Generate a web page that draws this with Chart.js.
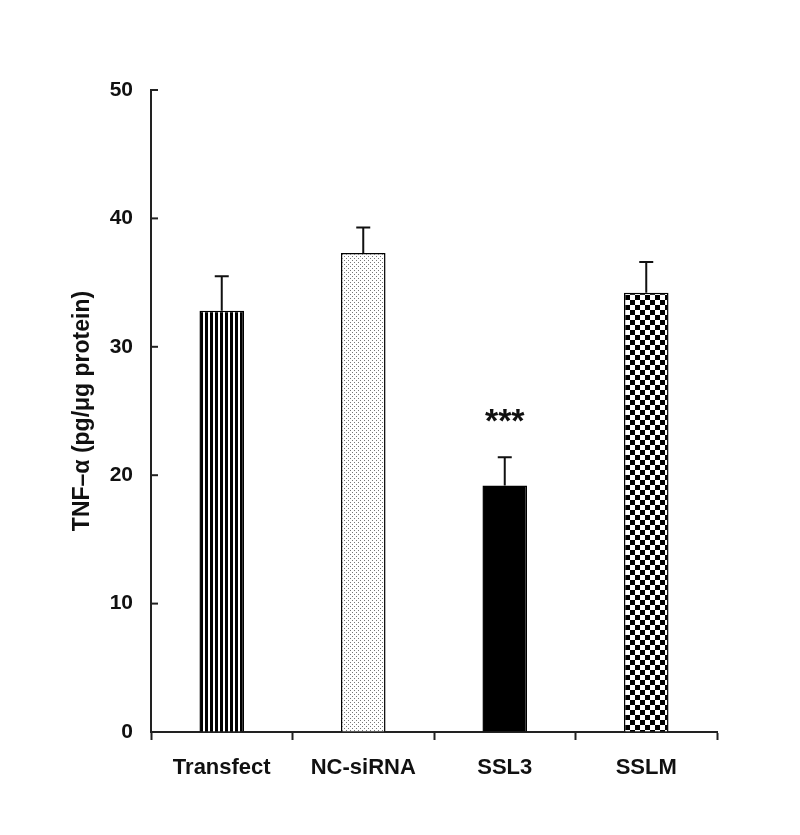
<!DOCTYPE html>
<html>
<head>
<meta charset="utf-8">
<script src="https://cdn.jsdelivr.net/npm/chart.js@4.4.1/dist/chart.umd.min.js"></script>
<style>
  html, body { margin: 0; padding: 0; background: #fff; }
  #wrap { width: 800px; height: 835px; }
</style>
</head>
<body>
<div id="wrap"><canvas id="c" width="800" height="835"></canvas></div>
<script>
const categories = ['Transfect', 'NC-siRNA', 'SSL3', 'SSLM'];
const values = [32.8, 37.3, 19.2, 34.2];
const errors = [2.7, 2.0, 2.2, 2.4];
const significance = ['', '', '***', ''];
const yTicks = [0, 10, 20, 30, 40, 50];

function makePattern(kind) {
  const c = document.createElement('canvas');
  const x = c.getContext('2d');
  if (kind === 'stripes') {
    c.width = 5; c.height = 5;
    x.fillStyle = '#fff'; x.fillRect(0, 0, 5, 5);
    x.fillStyle = '#000'; x.fillRect(0, 0, 3, 5);
  } else if (kind === 'dots') {
    c.width = 4; c.height = 4;
    x.fillStyle = '#fff'; x.fillRect(0, 0, 4, 4);
    x.fillStyle = '#777';
    x.fillRect(0, 0, 1, 1); x.fillRect(2, 2, 1, 1);
  } else if (kind === 'checker') {
    c.width = 10; c.height = 10;
    x.fillStyle = '#fff'; x.fillRect(0, 0, 10, 10);
    x.fillStyle = '#000'; x.fillRect(0, 0, 5, 5); x.fillRect(5, 5, 5, 5);
  }
  return x.createPattern(c, 'repeat');
}

const fills = [makePattern('stripes'), makePattern('dots'), '#000', makePattern('checker')];

const errorBarPlugin = {
  id: 'errorBars',
  afterDatasetsDraw(chart) {
    const ctx = chart.ctx;
    const meta = chart.getDatasetMeta(0);
    const yScale = chart.scales.y;
    ctx.save();
    ctx.strokeStyle = '#111';
    ctx.lineWidth = 2;
    meta.data.forEach((bar, i) => {
      const top = yScale.getPixelForValue(values[i] + errors[i]);
      ctx.beginPath();
      ctx.moveTo(bar.x, bar.y);
      ctx.lineTo(bar.x, top);
      ctx.moveTo(bar.x - 7, top);
      ctx.lineTo(bar.x + 7, top);
      ctx.stroke();
      if (significance[i]) {
        ctx.fillStyle = '#111';
        ctx.font = 'bold 34px "Liberation Sans", Arial, sans-serif';
        ctx.textAlign = 'center';
        ctx.textBaseline = 'alphabetic';
        ctx.fillText(significance[i], bar.x, top - 25);
      }
    });
    // inward y ticks
    ctx.lineWidth = 2;
    ctx.strokeStyle = '#222';
    const left = chart.chartArea.left;
    yTicks.forEach(v => {
      const py = yScale.getPixelForValue(v);
      ctx.beginPath();
      ctx.moveTo(left, py);
      ctx.lineTo(left + 7, py);
      ctx.stroke();
    });
    ctx.restore();
  }
};

new Chart(document.getElementById('c'), {
  type: 'bar',
  data: {
    labels: categories,
    datasets: [{
      data: values,
      backgroundColor: fills,
      borderColor: '#000',
      borderWidth: 1.5,
      borderSkipped: 'bottom',
      barPercentage: 0.315,
      categoryPercentage: 1.0
    }]
  },
  options: {
    responsive: false,
    animation: false,
    devicePixelRatio: 1,
    layout: { padding: { top: 90, right: 83, left: 0, bottom: 0 } },
    plugins: { legend: { display: false }, tooltip: { enabled: false } },
    scales: {
      x: {
        afterFit(s) { s.height = 103; },
        grid: { drawOnChartArea: false, drawTicks: true, tickLength: 8, tickWidth: 2, tickColor: '#222', offset: true },
        border: { display: true, color: '#222', width: 2 },
        ticks: { color: '#111', padding: 15, font: { family: '"Liberation Sans", Arial, sans-serif', size: 22, weight: 'bold' } }
      },
      y: {
        min: 0, max: 50,
        afterFit(s) { s.width = 151; },
        afterBuildTicks(s) { s.ticks = yTicks.map(v => ({ value: v })); },
        grid: { drawOnChartArea: false, drawTicks: false },
        border: { display: true, color: '#222', width: 2 },
        ticks: { color: '#111', padding: 18, font: { family: '"Liberation Sans", Arial, sans-serif', size: 21, weight: 'bold' } },
        title: {
          display: true,
          text: 'TNF–α (pg/μg protein)',
          color: '#111',
          padding: { top: 69, bottom: 0 },
          font: { family: '"Liberation Sans", Arial, sans-serif', size: 23, weight: 'bold' }
        }
      }
    }
  },
  plugins: [errorBarPlugin]
});
</script>
</body>
</html>
